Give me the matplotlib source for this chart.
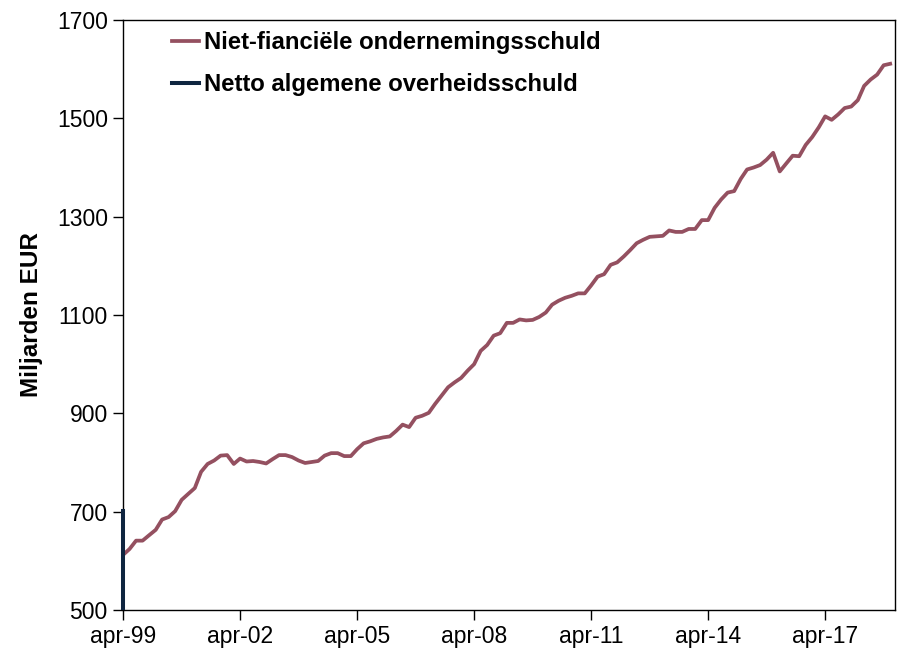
import matplotlib
matplotlib.use("Agg")
import matplotlib.pyplot as plt
from matplotlib.transforms import Bbox, TransformedBbox
import pandas as pd

plt.rcParams['font.family'] = ['Liberation Sans', 'DejaVu Sans']

# Niet-financiële ondernemingsschuld, miljarden EUR, om de twee maanden vanaf apr-99
bedrijfsschuld = [
    612, 624, 641, 641, 652, 663, 684, 689, 701, 724,
    736, 748, 781, 797, 804, 814, 815, 797, 808, 802,
    803, 801, 798, 807, 815, 815, 811, 804, 799, 801,
    803, 814, 819, 819, 813, 813, 827, 839, 843, 848,
    851, 853, 864, 877, 872, 891, 895, 901, 919, 936,
    953, 963, 972, 987, 1000, 1027, 1039, 1058, 1063, 1084,
    1084, 1091, 1089, 1090, 1096, 1105, 1121, 1129, 1135, 1139,
    1144, 1144, 1160, 1178, 1183, 1202, 1207, 1219, 1232, 1246,
    1253, 1259, 1260, 1261, 1272, 1269, 1269, 1275, 1275, 1293,
    1293, 1318, 1335, 1349, 1352, 1377, 1396, 1400, 1405, 1416,
    1430, 1392, 1408, 1424, 1423, 1446, 1462, 1482, 1504, 1497,
    1508, 1521, 1524, 1537, 1566, 1579, 1589, 1608, 1611,
]
datums = pd.date_range('1999-04-01', periods=len(bedrijfsschuld), freq='2MS')

# Netto algemene overheidsschuld: alleen de eerste waarden zijn zichtbaar
overheid_datums = pd.to_datetime(['1999-04-01', '1999-04-01'])
overheidsschuld = [702, 300]

tick_datums = pd.date_range('1999-04-01', '2017-04-01', freq='36MS')
tick_labels = ['apr-99', 'apr-02', 'apr-05', 'apr-08', 'apr-11', 'apr-14', 'apr-17']

fig = plt.figure(figsize=(9.1, 6.61), dpi=100)
ax = fig.add_axes([0.1352, 0.0772, 0.8483, 0.8925])

ax.plot(datums, bedrijfsschuld, color='#945060', linewidth=2.7,
        solid_joinstyle='round', label='Niet-fianciële ondernemingsschuld')
lijn, = ax.plot(overheid_datums, overheidsschuld, color='#0f2540', linewidth=2.9,
                zorder=3, label='Netto algemene overheidsschuld')
# iets ruimer clippen zodat de lijn op de as volledig zichtbaar is
lijn.set_clip_box(TransformedBbox(Bbox([[-0.01, 0], [1, 1]]), ax.transAxes))

ax.set_ylim(500, 1700)
ax.set_yticks([500, 700, 900, 1100, 1300, 1500, 1700])
ax.set_xlim(pd.Timestamp('1999-04-01'), pd.Timestamp('2019-01-15'))
ax.set_xticks(tick_datums)
ax.set_xticklabels(tick_labels)

ax.tick_params(axis='both', direction='out', length=7, width=1, labelsize=16.5, pad=4)
for s in ax.spines.values():
    s.set_linewidth(1)

ax.set_ylabel('Miljarden EUR', fontsize=17.5, fontweight='bold', labelpad=10)

ax.legend(loc='upper left', bbox_to_anchor=(0.063, 0.981), frameon=False,
          borderaxespad=0, borderpad=0,
          prop={'size': 17.2, 'weight': 'bold'}, handlelength=1.15,
          handletextpad=0.2, labelspacing=0.78)

fig.savefig('out.png', dpi=100)
